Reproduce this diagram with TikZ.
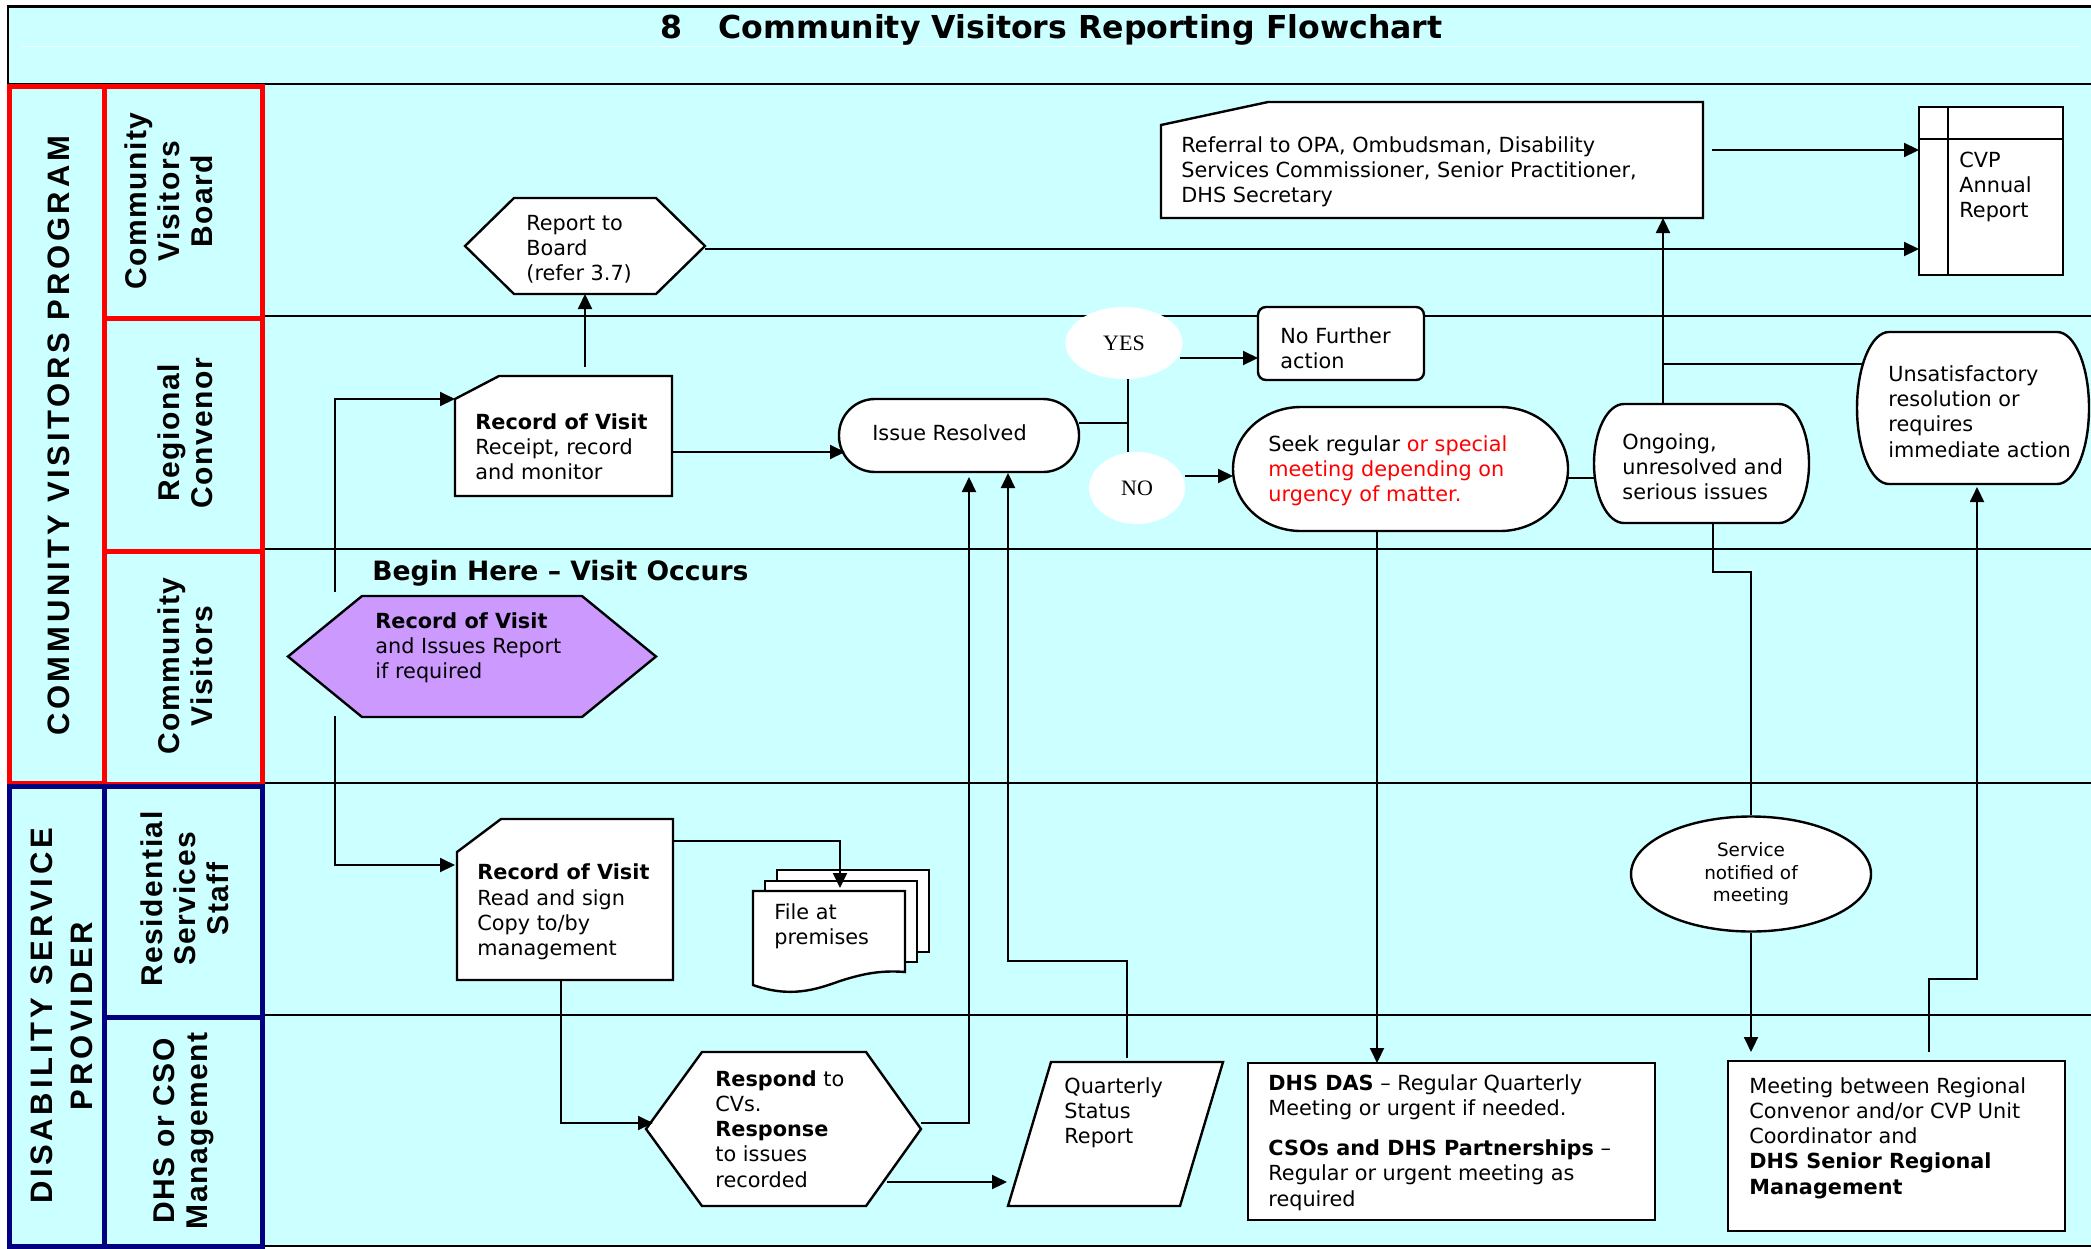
\documentclass[tikz,border=0pt]{standalone}
\usepackage{fontspec}
\setmainfont{DejaVu Sans}
\newfontfamily\lanefont{Liberation Sans}[LetterSpace=5]
\newfontfamily\progfont{Liberation Sans}[LetterSpace=12]
\newfontfamily\yesfont{Liberation Serif}
\usetikzlibrary{arrows.meta,calc,fit,shapes.geometric}
\definecolor{bgcyan}{HTML}{CCFFFF}
\definecolor{lanered}{HTML}{FF0000}
\definecolor{laneblue}{HTML}{000080}
\definecolor{lilac}{HTML}{CC99FF}
\definecolor{alertred}{HTML}{FF0000}
\newcommand\bodyfs{\fontsize{10.4}{12.6}\selectfont}
\newcommand\lanefs{\lanefont\bfseries\fontsize{15}{16.5}\selectfont}
\newcommand\progfs{\progfont\bfseries\fontsize{15.5}{20}\selectfont}
\begin{document}
\begin{tikzpicture}[x=0.5pt,y=-0.5pt,
  holder/.style={inner sep=0pt, outer sep=0pt},
  shp/.style={draw=black, line width=1.2pt, fill=white, line join=miter},
  con/.style={draw=black, line width=1pt},
  arr/.style={con, -{Triangle[length=7.5pt,width=7pt]}},
  txt/.style={font=\bodyfs, align=left, inner sep=0pt, anchor=west},
  lanelbl/.style={font=\lanefs, align=center, inner sep=0pt, rotate=90},
  progl/.style={font=\progfs, align=center, inner sep=0pt, rotate=90},
  laneframe/.style={line width=2.5pt},
  decis/.style={ellipse, fill=white, inner sep=0pt, font=\yesfont\fontsize{11}{13}\selectfont}
]
\useasboundingbox (0,0) rectangle (2091,1248);
% background and frame
\fill[bgcyan] (8,6) rectangle (2091,1247);
\draw[bgcyan!40!white, line width=0.5pt] (22,46) -- (2080,46);
\draw[line width=1.2pt] (8,86) -- (8,6.5) -- (2091,6.5);
\draw[line width=0.8pt] (8,84) -- (2091,84);
\foreach \yy in {316,549,783,1015,1246} { \draw[line width=0.8pt] (262,\yy) -- (2091,\yy); }
% lane frames
\draw[laneframe, lanered] (9.5,86.5) rectangle (104.5,783);
\draw[laneframe, lanered] (104.5,86.5) rectangle (262.5,318.5);
\draw[laneframe, lanered] (104.5,318.5) rectangle (262.5,551.5);
\draw[laneframe, lanered] (104.5,551.5) rectangle (262.5,784);
\draw[laneframe, laneblue] (9.5,786) rectangle (104.5,1246);
\draw[laneframe, laneblue] (104.5,786) rectangle (262.5,1017.5);
\draw[laneframe, laneblue] (104.5,1017.5) rectangle (262.5,1246);
% lane labels
\node[progl] (lblcvp) at (59,436) {COMMUNITY VISITORS PROGRAM};
\node[progl] (lbldsp) at (62,1016) {DISABILITY SERVICE\\PROVIDER};
\node[lanelbl] (lblboard) at (168.5,201) {Community\\Visitors\\Board};
\node[lanelbl] (lblconv) at (185,433) {Regional\\Convenor};
\node[lanelbl] (lblcv) at (185,666) {Community\\Visitors};
\node[lanelbl] (lblres) at (185,899) {Residential\\Services\\Staff};
\node[lanelbl] (lbldhs) at (184,1131) {DHS or CSO\\Management};
% title
\node[anchor=west, inner sep=0pt, font=\bfseries\fontsize{15.8}{18}\selectfont] (title) at (660,30) {8\hspace{18pt}Community Visitors Reporting Flowchart};

% ---------- shapes ----------
% Report to Board
\node[holder, fit={(465,198)(705,294)}] (board) {};
\draw[shp] (board.west) -- ($(board.north west)+(49,0)$) -- ($(board.north east)+(-49,0)$) -- (board.east) -- ($(board.south east)+(-49,0)$) -- ($(board.south west)+(49,0)$) -- cycle;
\node[txt] (boardtxt) at (526,249) {Report to\\Board\\(refer 3.7)};
% Referral
\node[holder, fit={(1161,102)(1703,218)}] (referral) {};
\draw[shp] ($(referral.north west)+(0,23)$) -- ($(referral.north west)+(107,0)$) -- (referral.north east) -- (referral.south east) -- (referral.south west) -- cycle;
\node[txt] (referraltxt) at (1181,172) {Referral to OPA, Ombudsman, Disability\\Services Commissioner, Senior Practitioner,\\DHS Secretary};
% CVP Annual Report
\node[holder, fit={(1919,107)(2063,275)}] (cvp) {};
\draw[shp] (cvp.south west) rectangle (cvp.north east);
\draw[line width=1.2pt] ($(cvp.north west)+(29,0)$) -- ($(cvp.south west)+(29,0)$);
\draw[line width=1.2pt] ($(cvp.north west)+(0,32)$) -- ($(cvp.north east)+(0,32)$);
\node[txt] (cvptxt) at (1959,187) {CVP\\Annual\\Report};
% Record of Visit (Regional Convenor)
\node[holder, fit={(455,376)(672,496)}] (recRC) {};
\draw[shp] ($(recRC.north west)+(0,23)$) -- ($(recRC.north west)+(44,0)$) -- (recRC.north east) -- (recRC.south east) -- (recRC.south west) -- cycle;
\node[txt] (recRCtxt) at (475,447) {\textbf{Record of Visit}\\Receipt, record\\and monitor};
% Purple start hexagon
\node[holder, fit={(288,596)(656,717)}] (purple) {};
\draw[shp, fill=lilac] (purple.west) -- ($(purple.north west)+(74,0)$) -- ($(purple.north east)+(-74,0)$) -- (purple.east) -- ($(purple.south east)+(-74,0)$) -- ($(purple.south west)+(74,0)$) -- cycle;
\node[txt] (purpletxt) at (375,648) {\textbf{Record of Visit}\\and Issues Report\\if required};
\node[anchor=west, inner sep=0pt, font=\bfseries\fontsize{13.3}{15}\selectfont] (begin) at (372,573) {Begin Here -- Visit Occurs};
% Issue Resolved
\node[holder, fit={(839,399)(1079,472)}] (issue) {};
\draw[shp, rounded corners=18pt] (issue.south west) rectangle (issue.north east);
\node[font=\bodyfs, inner sep=0pt] (issuetxt) at (949.5,433) {Issue Resolved};
% No Further action
\node[holder, fit={(1258,307)(1424,380)}] (nofurther) {};
\draw[shp, rounded corners=4pt] (nofurther.south west) rectangle (nofurther.north east);
\node[txt] (nofurthertxt) at (1280,348) {No Further\\action};
% Seek regular
\node[holder, fit={(1233,407)(1568,531)}] (seek) {};
\draw[shp] ($(seek.north west)+(68,0)$) -- ($(seek.north east)+(-68,0)$) arc[start angle=90,end angle=-90,x radius=34pt,y radius=31pt] -- ($(seek.south west)+(68,0)$) arc[start angle=270,end angle=90,x radius=34pt,y radius=31pt] -- cycle;
\node[txt] (seektxt) at (1268,471) {Seek regular \textcolor{alertred}{or special}\\\textcolor{alertred}{meeting depending on}\\\textcolor{alertred}{urgency of matter.}};
% Ongoing
\node[holder, fit={(1594,404)(1809,523)}] (ongoing) {};
\draw[shp] ($(ongoing.north west)+(30,0)$) -- ($(ongoing.north east)+(-30,0)$) arc[start angle=90,end angle=-90,x radius=15pt,y radius=29.75pt] -- ($(ongoing.south west)+(30,0)$) arc[start angle=270,end angle=90,x radius=15pt,y radius=29.75pt] -- cycle;
\node[txt] (ongoingtxt) at (1622,467) {Ongoing,\\unresolved and\\serious issues};
% Unsatisfactory
\node[holder, fit={(1857,332)(2089,484)}] (unsat) {};
\draw[shp] ($(unsat.north west)+(32,0)$) -- ($(unsat.north east)+(-32,0)$) arc[start angle=90,end angle=-90,x radius=16pt,y radius=38pt] -- ($(unsat.south west)+(32,0)$) arc[start angle=270,end angle=90,x radius=16pt,y radius=38pt] -- cycle;
\node[txt] (unsattxt) at (1888,411.5) {Unsatisfactory\\resolution or\\requires\\immediate action};
% Service notified
\node[ellipse, shp, minimum width=120pt, minimum height=57.5pt, inner sep=0pt, align=center, font=\fontsize{9.2}{11.2}\selectfont] (service) at (1751,874) {Service\\notified of\\meeting};
% Record of Visit (Residential)
\node[holder, fit={(457,819)(673,980)}] (recRS) {};
\draw[shp] ($(recRS.north west)+(0,33)$) -- ($(recRS.north west)+(44,0)$) -- (recRS.north east) -- (recRS.south east) -- (recRS.south west) -- cycle;
\node[txt] (recRStxt) at (477,912) {\textbf{Record of Visit}\\Read and sign\\Copy to/by\\management};
% File at premises
\node[holder, fit={(753,870)(929,993)}] (file) {};
\draw[shp] ($(file.north west)+(24,0)$) rectangle ($(file.north west)+(176,82)$);
\draw[shp] ($(file.north west)+(12,11)$) rectangle ($(file.north west)+(164,92)$);
\draw[shp] ($(file.north west)+(0,21)$) -- ($(file.north west)+(152,21)$) -- ($(file.north west)+(152,102)$) .. controls ($(file.north west)+(127,100)$) and ($(file.north west)+(109,104)$) .. ($(file.north west)+(87,111)$) .. controls ($(file.north west)+(62,120)$) and ($(file.north west)+(37,128)$) .. ($(file.north west)+(0,115)$) -- cycle;
\node[txt] (filetxt) at (774,926) {File at\\premises};
% Respond hexagon
\node[holder, fit={(646,1052)(921,1206)}] (respond) {};
\draw[shp] (respond.west) -- ($(respond.north west)+(56,0)$) -- ($(respond.north east)+(-55,0)$) -- (respond.east) -- ($(respond.south east)+(-55,0)$) -- ($(respond.south west)+(56,0)$) -- cycle;
\node[txt] (respondtxt) at (715,1129) {\textbf{Respond} to\\CVs.\\\textbf{Response}\\to issues\\recorded};
% Quarterly Status Report
\node[holder, fit={(1008,1062)(1223,1206)}] (quarterly) {};
\draw[shp] ($(quarterly.north west)+(43,0)$) -- (quarterly.north east) -- ($(quarterly.south east)+(-43,0)$) -- (quarterly.south west) -- cycle;
\node[txt] (quarterlytxt) at (1064,1113) {Quarterly\\Status\\Report};
% DHS DAS
\node[holder, fit={(1248,1063)(1655,1220)}] (dhsdas) {};
\draw[shp] (dhsdas.south west) rectangle (dhsdas.north east);
\node[txt] (dhsdastxt) at (1268,1142.5) {\textbf{DHS DAS} -- Regular Quarterly\\Meeting or urgent if needed.\\[7.5pt]\textbf{CSOs and DHS Partnerships} --\\Regular or urgent meeting as\\required};
% Meeting between
\node[holder, fit={(1728,1061)(2065,1231)}] (meeting) {};
\draw[shp] (meeting.south west) rectangle (meeting.north east);
\node[txt] (meetingtxt) at (1749,1138) {Meeting between Regional\\Convenor and/or CVP Unit\\Coordinator and\\\textbf{DHS Senior Regional}\\\textbf{Management}};

% ---------- connectors ----------
\draw[arr] ($(board.south |- recRC.north)+(0,-9)$) -- (board.south);
\draw[arr] ($(board.east)+(0,3)$) -- ($(board.east -| cvp.west)+(0,3)$);
\draw[arr] ($(referral.east)+(9,-10)$) -- ($(referral.east -| cvp.west)+(0,-10)$);
\draw[arr] ($(recRC.east)+(0,16)$) -- ($(recRC.east -| issue.west)+(6,16)$);
\draw[arr] ($(purple.north)+(-137,-4)$) |- ($(recRC.west)+(0,-37)$);
\draw[arr] ($(purple.south)+(-137,-1)$) |- ($(recRS.west)+(-2,-34.5)$);
\draw[arr] ($(recRS.east)+(0,-58.5)$) -| ($(file.north west)+(87,18)$);
\draw[arr] ($(recRS.south)+(-4,0)$) |- ($(respond.west)+(7,-6)$);
\draw[arr] ($(respond.east)+(0,-6)$) -| ($(issue.south)+(10,5)$);
\draw[arr] ($(quarterly.north)+(11.5,-4)$) -- ++(0,-97) -| ($(issue.south)+(49,1)$);
\draw[arr] ($(respond.east)+(-34,53)$) -- ($(respond.east -| quarterly.west)+(-1,53)$);
\draw[arr] ($(seek.south)+(-23.5,0)$) -- ($(seek.south |- dhsdas.north)+(-23.5,0)$);
\draw[con] ($(seek.east)+(0,9)$) -- ($(seek.east -| ongoing.west)+(0,9)$);
\draw[arr] ($(ongoing.north)+(-38.5,0)$) -- ($(ongoing.north |- referral.south)+(-38.5,0)$);
\coordinate (brk) at ($(ongoing.north)+(-38.5,-40)$);
\draw[con] (brk) -- ($(brk -| unsat.west)+(6,0)$);
\draw[con] ($(ongoing.south)+(11.5,0)$) -- ++(0,49) -| (service.north);
\draw[arr] (service.south) -- ($(service.south |- meeting.north)+(0,-9)$);
\draw[arr] ($(meeting.north)+(32.5,-9)$) -- ++(0,-73) -| ($(unsat.south)+(4,3)$);
% decision
\node[decis, minimum width=58.5pt, minimum height=36pt] (yes) at (1124,343) {YES};
\node[decis, minimum width=48pt, minimum height=36pt] (no) at (1137,488) {NO};
\coordinate (jtop) at ($(yes.south)+(4,0)$);
\draw[con] ($(issue.east)+(0,-12.5)$) -- ($(issue.east -| jtop)+(0,-12.5)$);
\draw[con] (jtop) -- (jtop |- no.north);
\draw[arr] ($(yes.east)+(-3,15)$) -- ($(yes.east -| nofurther.west)+(0,15)$);
\draw[arr] ($(no.east)+(0,-12)$) -- ($(no.east -| seek.west)+(0,-12)$);
\end{tikzpicture}
\end{document}
